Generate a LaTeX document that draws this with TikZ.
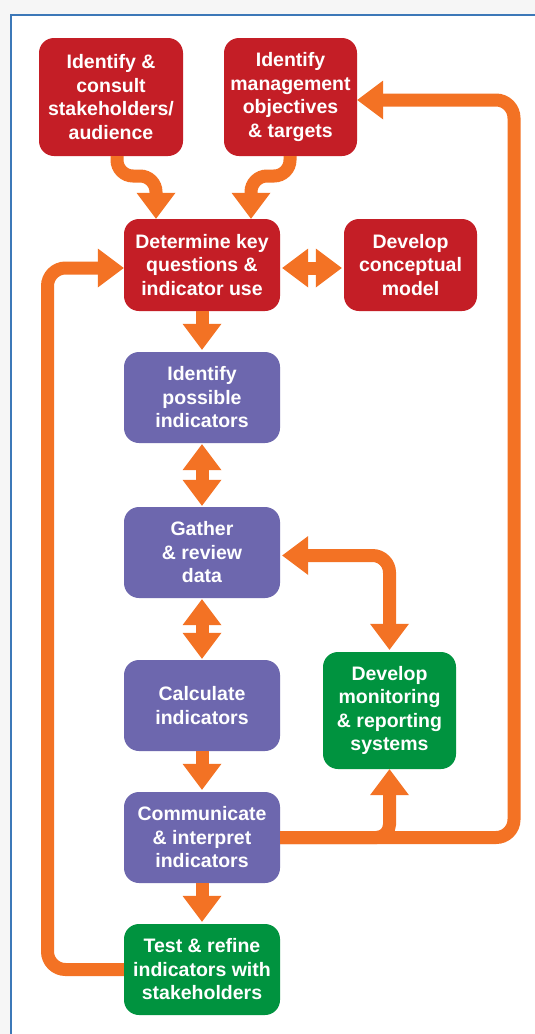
\documentclass[tikz,border=0pt]{standalone}
\usepackage{fontspec}
\setmainfont{Liberation Sans}
\usetikzlibrary{arrows.meta,calc}
\definecolor{redc}{HTML}{C41E26}
\definecolor{purc}{HTML}{6D67AE}
\definecolor{grnc}{HTML}{00933F}
\definecolor{orng}{HTML}{F37224}
\definecolor{framec}{HTML}{3C78B8}
\definecolor{outc}{HTML}{F6F6F6}
\tikzset{
  BigTri/.tip={Triangle[width=39pt,length=26pt,line width=0pt]},
  boxbase/.style={rounded corners=15pt, text=white, align=center, inner sep=0pt,
    font=\bfseries\fontsize{19.5}{23.5}\selectfont},
  redbox/.style={boxbase, fill=redc},
  purbox/.style={boxbase, fill=purc, minimum width=156pt, minimum height=91pt},
  grnbox/.style={boxbase, fill=grnc},
  conn/.style={draw=orng, line width=13pt, -BigTri},
  dbl/.style={draw=orng, line width=13pt, BigTri-BigTri},
}
\begin{document}
\begin{tikzpicture}[x=1pt,y=-1pt]
\useasboundingbox (0,0) rectangle (535,1034);
\fill[outc] (0,0) rectangle (535,1034);
\fill[white] (11,15) rectangle (535,1034);
\draw[framec, line width=1.3pt] (11,1034) -- (11,15) -- (535,15);

% nodes
\node[redbox, minimum width=144pt, minimum height=118pt] (n1) at (111,97) {Identify \&\\consult\\stakeholders/\\audience};
\node[redbox, minimum width=133pt, minimum height=118pt] (n2) at (290.5,97) {Identify\\management\\objectives\\\& targets};
\node[redbox, minimum width=156pt, minimum height=92pt] (n3) at (202,265) {Determine key\\questions \&\\indicator use};
\node[redbox, minimum width=133pt, minimum height=92pt] (n4) at (410.5,265) {Develop\\conceptual\\model};
\node[purbox] (n5) at (202,397.5) {Identify\\possible\\indicators};
\node[purbox] (n6) at (202,552.5) {Gather\\\& review\\data};
\node[purbox] (n7) at (202,705.5) {Calculate\\indicators};
\node[grnbox, minimum width=133pt, minimum height=117pt] (n8) at (389.5,710.5) {Develop\\monitoring\\\& reporting\\systems};
\node[purbox] (n9) at (202,837.5) {Communicate\\\& interpret\\indicators};
\node[grnbox, minimum width=156pt, minimum height=91pt] (n10) at (202,969.5) {Test \& refine\\indicators with\\stakeholders};

% helper coordinates
\coordinate (a1) at (117,176);
\coordinate (a2) at (156,176);
\coordinate (b1) at (290,176);
\coordinate (b2) at (251,176);
\coordinate (rb) at (514,0);
\coordinate (lb) at (47.5,0);

% connectors
\draw[conn, rounded corners=16pt] (n1.south -| a1) -- (a1) -- (a2) -- (n3.north -| a2);
\draw[conn, rounded corners=16pt] (n2.south -| b1) -- (b1) -- (b2) -- (n3.north -| b2);
\draw[dbl, shorten <=2pt, shorten >=2pt] ([yshift=-3pt]n3.east) -- ([yshift=-3pt]n4.west);
\draw[conn, shorten >=2pt] (n3.south) -- (n5.north);
\draw[dbl, shorten <=1pt, shorten >=1pt] (n5.south) -- (n6.north);
\draw[dbl, shorten <=1pt, shorten >=1pt] (n6.south) -- (n7.north);
\draw[dbl, rounded corners=17pt, shorten <=2pt, shorten >=2pt] ([yshift=-3pt]n6.east) -| (n8.north);
\draw[conn, shorten >=2pt] (n7.south) -- (n9.north);
\draw[conn, shorten >=2pt] (n9.south) -- (n10.north);
\draw[conn, rounded corners=13pt] (n9.east) -| (n8.south);
\draw[conn, rounded corners=18pt] (n9.east) -- (n9.east -| rb) -- ([yshift=-3pt]n2.east -| rb) -- ([yshift=-3pt]n2.east);
\draw[conn, rounded corners=18pt] (n10.west) -- (n10.west -| lb) -- ([yshift=-3pt]n3.west -| lb) -- ([yshift=-3pt]n3.west);
\end{tikzpicture}
\end{document}
